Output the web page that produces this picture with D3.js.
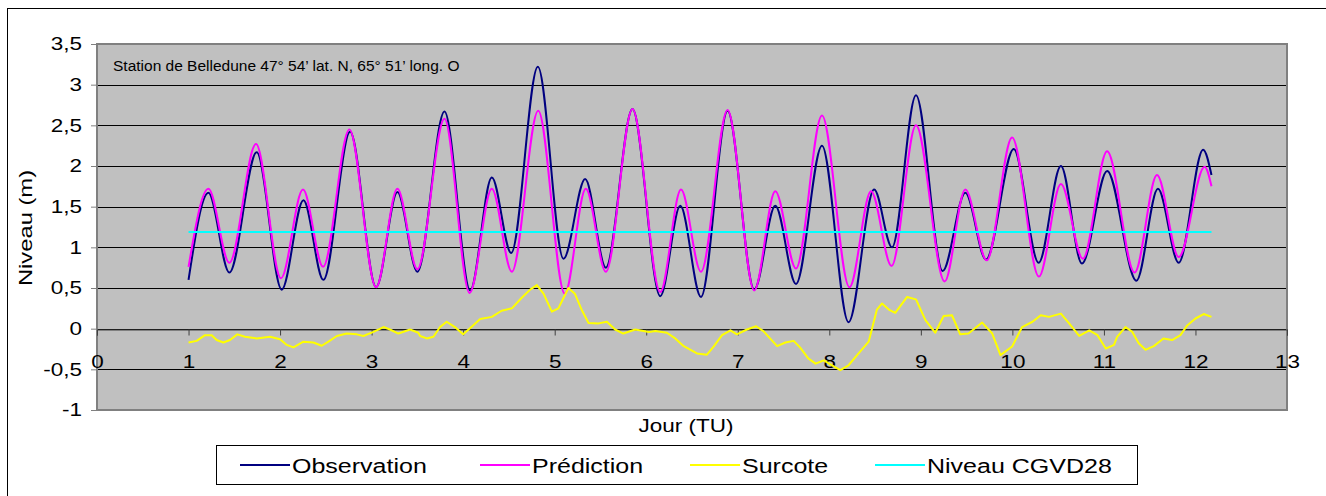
<!DOCTYPE html>
<html>
<head>
<meta charset="utf-8">
<script src="https://cdn.jsdelivr.net/npm/d3@7"></script>
<style>
  body { margin: 0; background: #fff; }
  svg { display: block; }
  text { font-family: Arial, "Liberation Sans", sans-serif; fill: #000; }
</style>
</head>
<body>
<svg id="chart" width="1326" height="496"></svg>
<script>
// Observed water level: turning points (day, m)
const obsDays = [1.0, 1.217, 1.446, 1.745, 2.018, 2.255, 2.473, 2.765, 3.049, 3.282, 3.50,
  3.796, 4.077, 4.313, 4.525, 4.816, 5.096, 5.333, 5.559, 5.85, 6.153, 6.372, 6.598, 6.889,
  7.18, 7.41, 7.636, 7.92, 8.21, 8.49, 8.685, 8.947, 9.238, 9.486, 9.712, 10.015, 10.287,
  10.53, 10.76, 11.035, 11.355, 11.59, 11.817, 12.084, 12.175];
const obsLevels = [0.60, 1.67, 0.69, 2.17, 0.48, 1.58, 0.60, 2.42, 0.51, 1.68, 0.70,
  2.67, 0.47, 1.86, 0.93, 3.22, 0.86, 1.84, 0.75, 2.70, 0.40, 1.51, 0.39, 2.68,
  0.48, 1.51, 0.55, 2.25, 0.08, 1.71, 1.00, 2.87, 0.71, 1.67, 0.85, 2.21, 0.81,
  2.00, 0.80, 1.94, 0.59, 1.72, 0.81, 2.20, 1.89];

// Predicted tide: turning points (day, m)
const predDays = [1.0, 1.217, 1.446, 1.737, 2.01, 2.25, 2.47, 2.757, 3.049, 3.282, 3.50,
  3.796, 4.07, 4.313, 4.532, 4.82, 5.11, 5.34, 5.559, 5.85, 6.153, 6.38, 6.598, 6.889,
  7.18, 7.41, 7.636, 7.92, 8.22, 8.456, 8.68, 8.947, 9.26, 9.486, 9.72, 9.997, 10.29,
  10.53, 10.77, 11.035, 11.335, 11.58, 11.817, 12.10, 12.175];
const predLevels = [0.76, 1.72, 0.81, 2.27, 0.62, 1.71, 0.76, 2.45, 0.51, 1.72, 0.73,
  2.58, 0.44, 1.72, 0.70, 2.68, 0.43, 1.72, 0.70, 2.70, 0.45, 1.71, 0.70, 2.69,
  0.47, 1.69, 0.74, 2.62, 0.51, 1.69, 0.77, 2.50, 0.58, 1.71, 0.84, 2.35, 0.64,
  1.78, 0.86, 2.18, 0.69, 1.89, 0.88, 1.99, 1.75];

// Surge (observation - prediction)
const surgeDays = [1.0, 1.089, 1.18, 1.253, 1.307, 1.38, 1.453, 1.533, 1.617, 1.745, 1.89,
  2.0, 2.073, 2.146, 2.255, 2.364, 2.455, 2.528, 2.62, 2.728, 2.838, 2.91, 3.02, 3.13,
  3.2, 3.293, 3.42, 3.51, 3.53, 3.603, 3.675, 3.748, 3.82, 3.91, 4.0, 4.09, 4.186,
  4.313, 4.42, 4.532, 4.64, 4.732, 4.805, 4.878, 4.969, 5.04, 5.15, 5.22, 5.30, 5.37,
  5.48, 5.57, 5.66, 5.75, 5.88, 6.03, 6.10, 6.225, 6.317, 6.41, 6.554, 6.663, 6.736,
  6.828, 6.92, 6.99, 7.1, 7.2, 7.28, 7.43, 7.52, 7.61, 7.68, 7.77, 7.85, 7.94, 8.03,
  8.12, 8.21, 8.32, 8.43, 8.52, 8.576, 8.65, 8.72, 8.85, 8.947, 9.05, 9.157, 9.249,
  9.34, 9.43, 9.52, 9.67, 9.78, 9.87, 9.997, 10.106, 10.22, 10.31, 10.4, 10.53, 10.62,
  10.73, 10.84, 10.93, 11.02, 11.11, 11.144, 11.235, 11.31, 11.38, 11.454, 11.545,
  11.65, 11.745, 11.836, 11.91, 12.0, 12.09, 12.175];
const surgeLevels = [-0.17, -0.15, -0.08, -0.08, -0.14, -0.17, -0.14, -0.07, -0.10, -0.12, -0.10,
  -0.13, -0.20, -0.23, -0.16, -0.17, -0.21, -0.16, -0.09, -0.06, -0.07, -0.09, -0.04, 0.02,
  -0.01, -0.06, -0.01, -0.05, -0.09, -0.12, -0.10, 0.02, 0.085, 0.02, -0.07, 0.02, 0.12,
  0.145, 0.22, 0.25, 0.38, 0.48, 0.535, 0.43, 0.21, 0.25, 0.50, 0.43, 0.22, 0.07,
  0.065, 0.085, -0.01, -0.06, -0.01, -0.04, -0.03, -0.05, -0.12, -0.215, -0.305, -0.32, -0.22,
  -0.08, -0.02, -0.07, -0.01, 0.03, -0.03, -0.215, -0.17, -0.15, -0.23, -0.365, -0.43, -0.39, -0.45,
  -0.51, -0.45, -0.305, -0.16, 0.235, 0.31, 0.235, 0.195, 0.39, 0.36, 0.105, -0.05, 0.155,
  0.165, -0.07, -0.06, 0.075, -0.06, -0.325, -0.22, 0.02, 0.085, 0.165, 0.145, 0.185, 0.065,
  -0.09, -0.02, -0.08, -0.245, -0.20, -0.10, 0.02, -0.04, -0.18, -0.26, -0.215,
  -0.12, -0.14, -0.08, 0.04, 0.125, 0.18, 0.145];

// CGVD28 datum level
const datumDays = [1.0, 12.175];
const datumLevels = [1.19, 1.19];

const xTicks = d3.range(0, 14);
const yTicks = [-1, -0.5, 0, 0.5, 1, 1.5, 2, 2.5, 3, 3.5];
const stationLabel = "Station de Belledune 47° 54’ lat. N, 65° 51’ long. O";
const seriesNames = ["Observation", "Prédiction", "Surcote", "Niveau CGVD28"];
const seriesColors = ["#000080", "#FF00FF", "#FFFF00", "#00FFFF"];

const svg = d3.select('#chart');
const plot = { left: 97, right: 1287, top: 44, bottom: 410 };
const FONT = 'Arial, "Liberation Sans", sans-serif';
// text in the original export is drawn a little wider than plain Arial
const STRETCH = 1.25;

function widen(sel, factor) {
  sel.each(function() {
    const w = this.getComputedTextLength();
    d3.select(this)
      .attr('textLength', w * factor)
      .attr('lengthAdjust', 'spacingAndGlyphs');
  });
}

const frFormat = d3.formatLocale({
  decimal: ',', thousands: ' ', grouping: [3], currency: ['', ' €'], minus: '-'
}).format('~g');

const x = d3.scaleLinear().domain([0, 13]).range([plot.left, plot.right]);
const y = d3.scaleLinear().domain([-1, 3.5]).range([plot.bottom, plot.top]);

// Outer chart frame
svg.append('rect')
  .attr('x', 7.5).attr('y', 8.5)
  .attr('width', 1330).attr('height', 500)
  .attr('fill', '#fff').attr('stroke', '#000').attr('stroke-width', 1);

// Plot area
svg.append('rect')
  .attr('x', plot.left).attr('y', plot.top)
  .attr('width', plot.right - plot.left).attr('height', plot.bottom - plot.top)
  .attr('fill', '#C0C0C0');

// Grid lines
svg.append('g')
  .selectAll('line')
  .data(yTicks.filter(v => v > -1 && v < 3.5))
  .join('line')
  .attr('x1', plot.left).attr('x2', plot.right)
  .attr('y1', d => Math.round(y(d)) + 0.5).attr('y2', d => Math.round(y(d)) + 0.5)
  .attr('stroke', '#000').attr('stroke-width', 1);

// Plot area border
svg.append('rect')
  .attr('x', plot.left).attr('y', plot.top)
  .attr('width', plot.right - plot.left).attr('height', plot.bottom - plot.top)
  .attr('fill', 'none').attr('stroke', '#808080').attr('stroke-width', 2);

// Y axis
const yAxis = svg.append('g')
  .attr('transform', `translate(${plot.left},0)`)
  .call(d3.axisLeft(y).tickValues(yTicks).tickFormat(frFormat).tickSize(6).tickPadding(9));
yAxis.select('.domain').remove();
yAxis.selectAll('line').attr('stroke', '#808080');
yAxis.selectAll('text').attr('font-size', 18).attr('font-family', FONT).call(widen, STRETCH);

// X axis sits on the zero line
const xAxis = svg.append('g')
  .attr('transform', `translate(0,${Math.round(y(0)) + 0.5})`)
  .call(d3.axisBottom(x).tickValues(xTicks).tickSize(6).tickPadding(20));
xAxis.select('.domain').attr('stroke', '#404040');
xAxis.selectAll('line').attr('stroke', '#404040');
xAxis.selectAll('text').attr('font-size', 18).attr('font-family', FONT).call(widen, STRETCH);

// Series
const line = d3.line()
  .x(d => x(d[0]))
  .y(d => y(d[1]));

const series = [
  { pts: d3.zip(obsDays, obsLevels), curve: d3.curveMonotoneX },
  { pts: d3.zip(predDays, predLevels), curve: d3.curveMonotoneX },
  { pts: d3.zip(surgeDays, surgeLevels), curve: d3.curveLinear },
  { pts: d3.zip(datumDays, datumLevels), curve: d3.curveLinear }
];

svg.append('g')
  .selectAll('path')
  .data(series)
  .join('path')
  .attr('d', d => line.curve(d.curve)(d.pts))
  .attr('fill', 'none')
  .attr('stroke', (d, i) => seriesColors[i])
  .attr('stroke-width', 2)
  .attr('stroke-linejoin', 'round');

// Station label inside plot
svg.append('text')
  .attr('x', 113).attr('y', 71)
  .attr('font-size', 15.5)
  .text(stationLabel)
  .call(widen, 1.0);

// Axis titles
svg.append('text')
  .attr('transform', `translate(32,228) rotate(-90)`)
  .attr('text-anchor', 'middle')
  .attr('font-size', 19)
  .text('Niveau (m)')
  .call(widen, STRETCH);

svg.append('text')
  .attr('x', 686).attr('y', 432)
  .attr('text-anchor', 'middle')
  .attr('font-size', 18)
  .text('Jour (TU)')
  .call(widen, STRETCH);

// Legend
const legend = svg.append('g');
legend.append('rect')
  .attr('x', 216.5).attr('y', 445.5)
  .attr('width', 921).attr('height', 39)
  .attr('fill', '#fff').attr('stroke', '#000').attr('stroke-width', 1);

const legendX = [240, 480, 690, 875];
const items = legend.selectAll('g.item')
  .data(seriesNames)
  .join('g')
  .attr('class', 'item')
  .attr('transform', (d, i) => `translate(${legendX[i]},465)`);
items.append('line')
  .attr('x1', 0).attr('x2', 50)
  .attr('stroke', (d, i) => seriesColors[i])
  .attr('stroke-width', 2);
items.append('text')
  .attr('x', 52).attr('y', 7.5)
  .attr('font-size', 20)
  .text(d => d)
  .call(widen, STRETCH);
</script>
</body>
</html>
